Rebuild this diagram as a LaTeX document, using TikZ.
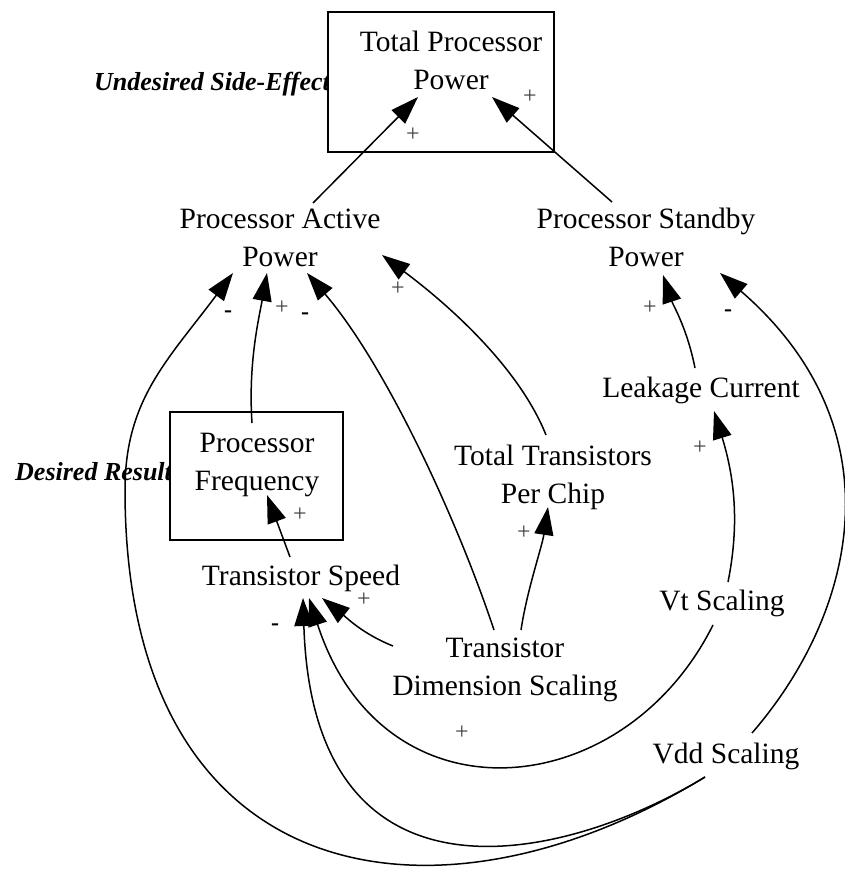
\documentclass[tikz,border=0pt]{standalone}
\usepackage{fontspec}
\setmainfont{Liberation Serif}
\usetikzlibrary{arrows.meta,calc}
\begin{document}
\begin{tikzpicture}[x=1pt,y=-1pt,
  lbl/.style={inner sep=0pt, align=center, anchor=base, font=\fontsize{29.5}{38}\selectfont},
  sidenote/.style={inner sep=0pt, anchor=base west, font=\fontsize{26}{32}\selectfont\bfseries\itshape},
  boxframe/.style={draw, line width=2.2pt, fill=white, inner sep=0pt},
  causal/.style={line width=1.5pt, -{Triangle[length=28pt,width=19pt]}},
  signp/.style={inner sep=0pt, text=black!75, font=\fontsize{24}{24}\selectfont},
  signm/.style={inner sep=0pt, font=\fontsize{24}{24}\selectfont\bfseries},
]
\useasboundingbox (0,0) rectangle (844,869);

% side notes (partly covered by the boxes)
\node[sidenote] (undes) at (94,91) {Undesired Side-Effect};
\node[sidenote] (desired) at (15,480) {Desired Result};

% framed variables
\node[boxframe, minimum width=226pt, minimum height=140pt] (tppbox) at (441,82) {};
\node[boxframe, minimum width=173pt, minimum height=128pt] (freqbox) at (256.5,476) {};

% variables (base = baseline of the last line)
\node[lbl] (tpp)   at (451,90)  {Total Processor\\Power};
\node[lbl] (pap)   at (280,266) {Processor Active\\Power};
\node[lbl] (psp)   at (646,266) {Processor Standby\\Power};
\node[lbl] (leak)  at (701,397) {Leakage Current};
\node[lbl] (freq)  at (257,490) {Processor\\Frequency};
\node[lbl] (ttpc)  at (553,503) {Total Transistors\\Per Chip};
\node[lbl] (speed) at (301,585) {Transistor Speed};
\node[lbl] (vt)    at (722,610) {Vt Scaling};
\node[lbl] (tds)   at (505,695) {Transistor\\Dimension Scaling};
\node[lbl] (vdd)   at (726,763) {Vdd Scaling};

% causal links
\draw[causal] ($(pap.base)+(33,-63)$) -- ($(tpp.base)+(-33,7)$);
\draw[causal] ($(psp.base)+(-34,-64)$) -- ($(tpp.base)+(41,7)$);
\draw[causal] ($(freq.base)+(-5,-67)$) .. controls +(-4,-60) and +(-8,45) .. ($(pap.base)+(-13,7)$);
\draw[causal] ($(speed.base)+(-11,-28)$) -- ($(freq.base)+(10,5)$);
\draw[causal] ($(tds.base)+(-11,-65)$) .. controls +(-38,-114) and +(78,91) .. ($(pap.base)+(27,7)$);
\draw[causal] ($(ttpc.base)+(-7,-68)$) .. controls +(-26,-65) and +(72,54) .. ($(pap.base)+(102,-11)$);
\draw[causal] ($(tds.base)+(16,-65)$) .. controls +(6,-40) and +(-6,40) .. ($(ttpc.base)+(-5,4)$);
\draw[causal] ($(tds.base)+(-112,-49)$) .. controls +(-30,-12) and +(25,20) .. ($(speed.base)+(21,13)$);
\draw[causal] ($(vt.base)+(6,-28)$) .. controls +(12,-60) and +(20,65) .. ($(leak.base)+(13,14)$);
\draw[causal] ($(leak.base)+(-6,-29)$) .. controls +(-8,-40) and +(10,30) .. ($(psp.base)+(17,9)$);
\draw[causal] ($(vdd.base)+(26,-30)$) .. controls +(104,-120) and +(180,156) .. ($(psp.base)+(74,7)$);
\draw[causal] ($(vt.base)+(-9,15)$) .. controls +(-90,180) and +(74,228) .. ($(speed.base)+(8,13)$);
\draw[causal] ($(vdd.base)+(-21,14)$) .. controls +(-145,88) and +(10,320) .. ($(speed.base)+(2,13)$);
\coordinate (outerbend) at (125,490);
\draw[causal] ($(vdd.base)+(-21,14)$) .. controls +(-272,166) and +(0,400) .. (outerbend)
  .. controls +(0,-90) and +(-66,88) .. ($(pap.base)+(-47,7)$);

% polarities
\node[signp] (s1)  at (413,135) {+};
\node[signp] (s2)  at (530,97)  {+};
\node[signm] (s3)  at (228,314) {-};
\node[signp] (s4)  at (282,308) {+};
\node[signm] (s5)  at (305,316) {-};
\node[signp] (s6)  at (398,289) {+};
\node[signp] (s7)  at (650,308) {+};
\node[signm] (s8)  at (728,313) {-};
\node[signp] (s9)  at (700,448) {+};
\node[signp] (s10) at (300,515) {+};
\node[signp] (s11) at (524,533) {+};
\node[signp] (s12) at (364,600) {+};
\node[signm] (s13) at (275,627) {-};
\node[signp] (s14) at (462,733) {+};
\end{tikzpicture}
\end{document}
